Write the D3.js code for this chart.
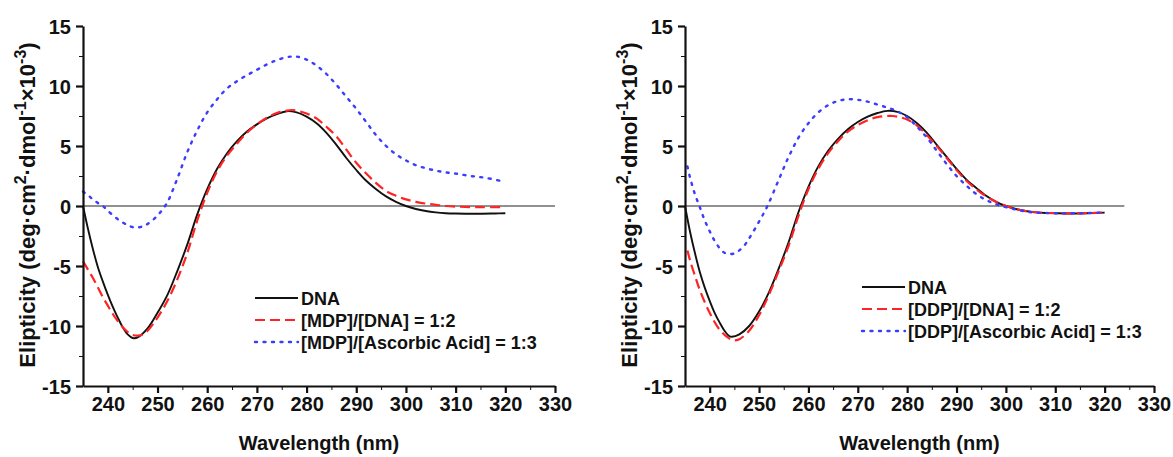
<!DOCTYPE html>
<html lang="en">
<head>
<meta charset="UTF-8">
<title>CD spectra</title>
<script src="https://d3js.org/d3.v7.min.js"></script>
<style>
  body { margin: 0; background: #fff; }
  svg { font-family: 'Liberation Sans', Arial, sans-serif; font-weight: bold; }
  .tick text { font-size: 20px; font-weight: bold; fill: #111; }
  .axis path, .axis line { stroke: #111; }
  .legend text { font-size: 18px; fill: #111; }
</style>
</head>
<body>
<div id="chart"></div>
<script>
// x ticks, y ticks
const xTicks = [240, 250, 260, 270, 280, 290, 300, 310, 320, 330];
const yTicks = [-15, -10, -5, 0, 5, 10, 15];

// left panel: [wavelength nm, ellipticity x10^-3]
const dnaLeft = [[235,0],[236,-1.9],[237,-3.6],[238,-5.1],[239,-6.3],[240,-7.4],[241,-8.4],[242,-9.3],[243,-10.1],[244,-10.7],[245,-11.0],[246,-10.95],[248,-10.2],[250,-8.9],[252,-7.4],[254,-5.4],[256,-3.2],[258,-0.7],[260,1.4],[262,3.1],[264,4.4],[266,5.4],[268,6.2],[270,6.8],[272,7.3],[274,7.65],[276,7.9],[278,7.8],[280,7.45],[282,6.9],[284,6.1],[286,5.1],[288,4.0],[290,3.0],[292,2.1],[294,1.4],[296,0.8],[298,0.35],[300,0.0],[302,-0.25],[304,-0.42],[306,-0.53],[308,-0.6],[310,-0.63],[314,-0.65],[318,-0.62],[320,-0.6]];
const mdpDna = [[235,-4.6],[236,-5.3],[237,-6.0],[238,-6.8],[239,-7.6],[240,-8.3],[241,-9.0],[242,-9.6],[243,-10.1],[244,-10.5],[245,-10.75],[246,-10.8],[247,-10.7],[248,-10.4],[250,-9.3],[252,-7.9],[254,-6.1],[256,-3.9],[258,-1.2],[260,1.1],[262,2.9],[264,4.2],[266,5.2],[268,6.1],[270,6.8],[272,7.35],[274,7.75],[276,7.95],[277,8.0],[278,7.95],[280,7.7],[282,7.3],[284,6.6],[286,5.8],[288,4.7],[290,3.6],[292,2.7],[294,1.9],[296,1.25],[298,0.85],[300,0.55],[302,0.35],[304,0.2],[306,0.1],[308,0.0],[310,-0.05],[315,-0.1],[320,-0.1]];
const mdpAsc = [[235,1.2],[236,0.9],[237,0.55],[238,0.25],[239,0],[240,-0.4],[242,-1.1],[244,-1.6],[245.5,-1.8],[247,-1.7],[248,-1.5],[250,-0.8],[251.5,0],[252,0.3],[254,2.3],[256,4.5],[258,6.3],[260,7.8],[262,8.9],[264,9.8],[266,10.4],[268,10.9],[270,11.35],[272,11.8],[274,12.15],[276,12.4],[277,12.45],[278,12.45],[280,12.2],[282,11.7],[284,11.0],[286,10.1],[288,9.1],[290,8.1],[292,7.0],[294,5.9],[296,5.0],[298,4.3],[300,3.8],[302,3.4],[304,3.15],[306,2.95],[308,2.8],[310,2.7],[313,2.5],[316,2.35],[320,2.0]];

// right panel
const dnaRight = [[235,0],[236,-2.1],[237,-3.9],[238,-5.5],[239,-6.8],[240,-7.9],[241,-8.9],[242,-9.7],[243,-10.4],[244,-10.85],[244.5,-10.9],[246,-10.7],[248,-10.0],[250,-8.8],[252,-7.2],[254,-5.2],[256,-3.0],[258,-0.5],[260,1.6],[262,3.3],[264,4.6],[266,5.6],[268,6.4],[270,7.0],[272,7.45],[274,7.75],[276,7.93],[278,7.85],[280,7.5],[282,6.9],[284,6.1],[286,5.1],[288,4.1],[290,3.1],[292,2.2],[294,1.5],[296,0.85],[298,0.35],[300,0.0],[302,-0.25],[304,-0.42],[306,-0.53],[308,-0.58],[310,-0.6],[314,-0.62],[318,-0.58],[320,-0.55]];
const ddpDna = [[235.5,-3.7],[236,-4.5],[237,-5.8],[238,-7.0],[240,-8.9],[242,-10.3],[244,-11.05],[245,-11.2],[246,-11.1],[248,-10.4],[250,-9.1],[252,-7.4],[254,-5.4],[256,-3.3],[258,-0.8],[260,1.4],[262,3.1],[264,4.4],[266,5.4],[268,6.2],[270,6.75],[272,7.15],[274,7.4],[276,7.5],[277,7.5],[278,7.45],[280,7.2],[282,6.7],[284,5.9],[286,5.0],[288,4.0],[290,3.0],[292,2.1],[294,1.4],[296,0.8],[298,0.35],[300,0.0],[302,-0.25],[304,-0.42],[306,-0.52],[308,-0.58],[310,-0.6],[314,-0.62],[318,-0.58],[320,-0.55]];
const ddpAsc = [[235.5,3.3],[236,2.4],[237,1.0],[238,-0.1],[239,-1.2],[240,-2.1],[241,-2.9],[242,-3.5],[243,-3.9],[244,-4.0],[245,-3.95],[246,-3.7],[247,-3.3],[248,-2.7],[250,-1.3],[251.7,0],[254,2.2],[256,4.1],[258,5.7],[260,6.9],[262,7.8],[264,8.4],[266,8.75],[268,8.9],[270,8.85],[272,8.7],[274,8.45],[276,8.2],[278,7.9],[280,7.4],[282,6.6],[284,5.7],[286,4.6],[288,3.5],[290,2.5],[292,1.7],[294,1.0],[296,0.5],[298,0.15],[300,-0.1],[302,-0.3],[304,-0.45],[306,-0.55],[310,-0.6],[315,-0.6],[320,-0.55]];

const leftNames = ["DNA", "[MDP]/[DNA] = 1:2", "[MDP]/[Ascorbic Acid] = 1:3"];
const rightNames = ["DNA", "[DDP]/[DNA] = 1:2", "[DDP]/[Ascorbic Acid] = 1:3"];

const styles = [
  {color: "#111", width: 1.9, dash: null},
  {color: "#ff2424", width: 2.2, dash: "10,5"},
  {color: "#3c3cff", width: 2.4, dash: "2,6.5"}
];

const svg = d3.select("#chart").append("svg")
  .attr("width", 1173).attr("height", 457);

function panel(opts) {
  const x = d3.scaleLinear().domain([235, 330]).range([opts.x0, opts.x1]);
  const y = d3.scaleLinear().domain([-15, 15]).range([386, 26]);
  const g = svg.append("g");

  // zero line
  g.append("line")
    .attr("x1", x(235)).attr("x2", x(opts.zeroEnd))
    .attr("y1", y(0)).attr("y2", y(0))
    .attr("stroke", "#222").attr("stroke-width", 1.2);

  const line = d3.line().x(d => x(d[0])).y(d => y(d[1])).curve(d3.curveCatmullRom);

  opts.series.forEach((s, i) => {
    g.append("path")
      .datum(s)
      .attr("d", line)
      .attr("fill", "none")
      .attr("stroke", styles[i].color)
      .attr("stroke-width", styles[i].width)
      .attr("stroke-dasharray", styles[i].dash)
      .attr("stroke-linecap", i === 2 ? "round" : "butt");
  });

  // axes
  const xAxis = g.append("g").attr("class", "axis")
    .attr("transform", `translate(0,${y(-15)})`)
    .call(d3.axisBottom(x).tickValues(xTicks).tickSize(7).tickSizeOuter(0).tickPadding(4));
  g.append("g").attr("class", "axis")
    .attr("transform", `translate(0,${y(-15)})`)
    .call(d3.axisBottom(x).tickValues(d3.range(245, 330, 10)).tickSize(4).tickFormat("").tickSizeOuter(0))
    .select(".domain").remove();
  xAxis.select(".domain").attr("stroke-width", 2.2);
  xAxis.selectAll(".tick line").attr("stroke-width", 2.2);

  const yAxis = g.append("g").attr("class", "axis")
    .attr("transform", `translate(${x(235)},0)`)
    .call(d3.axisLeft(y).tickValues(yTicks).tickFormat(d => String(d))
      .tickSize(7).tickSizeOuter(0).tickPadding(5));
  g.append("g").attr("class", "axis")
    .attr("transform", `translate(${x(235)},0)`)
    .call(d3.axisLeft(y).tickValues(d3.range(-12.5, 15, 5)).tickSize(4).tickFormat("").tickSizeOuter(0))
    .select(".domain").remove();
  yAxis.select(".domain").attr("stroke-width", 2.2);
  yAxis.selectAll(".tick line").attr("stroke-width", 2.2);
  yAxis.selectAll(".tick text").attr("dy", "0.36em");

  // axis titles
  g.append("text")
    .attr("x", (opts.x0 + opts.x1) / 2).attr("y", 450)
    .attr("text-anchor", "middle").attr("font-size", 20).attr("fill", "#111")
    .text("Wavelength (nm)");

  const yt = g.append("text")
    .attr("transform", `translate(${opts.ytx},205) rotate(-90)`)
    .attr("text-anchor", "middle").attr("font-size", 22).attr("fill", "#111");
  yt.append("tspan").text("Elipticity (deg\u00b7cm");
  yt.append("tspan").attr("font-size", 16).attr("dy", -9).text("2");
  yt.append("tspan").attr("dy", 9).text("\u00b7dmol");
  yt.append("tspan").attr("font-size", 16).attr("dy", -9).text("-1");
  yt.append("tspan").attr("dy", 9).text("\u00d710");
  yt.append("tspan").attr("font-size", 16).attr("dy", -9).text("-3");
  yt.append("tspan").attr("dy", 9).text(")");

  // legend
  const lg = g.append("g").attr("class", "legend");
  opts.names.forEach((n, i) => {
    const cy = opts.ly + i * 22;
    lg.append("line")
      .attr("x1", opts.lx).attr("x2", opts.lx + 43)
      .attr("y1", cy).attr("y2", cy)
      .attr("stroke", styles[i].color)
      .attr("stroke-width", styles[i].width)
      .attr("stroke-dasharray", styles[i].dash)
      .attr("stroke-linecap", i === 2 ? "round" : "butt");
    lg.append("text")
      .attr("x", opts.lx + 46).attr("y", cy + 6.5)
      .text(n);
  });
}

panel({x0: 83, x1: 555, zeroEnd: 330, ytx: 35, lx: 255, ly: 298,
       series: [dnaLeft, mdpDna, mdpAsc], names: leftNames});
panel({x0: 685, x1: 1154, zeroEnd: 324, ytx: 637, lx: 862, ly: 287,
       series: [dnaRight, ddpDna, ddpAsc], names: rightNames});
</script>
</body>
</html>
